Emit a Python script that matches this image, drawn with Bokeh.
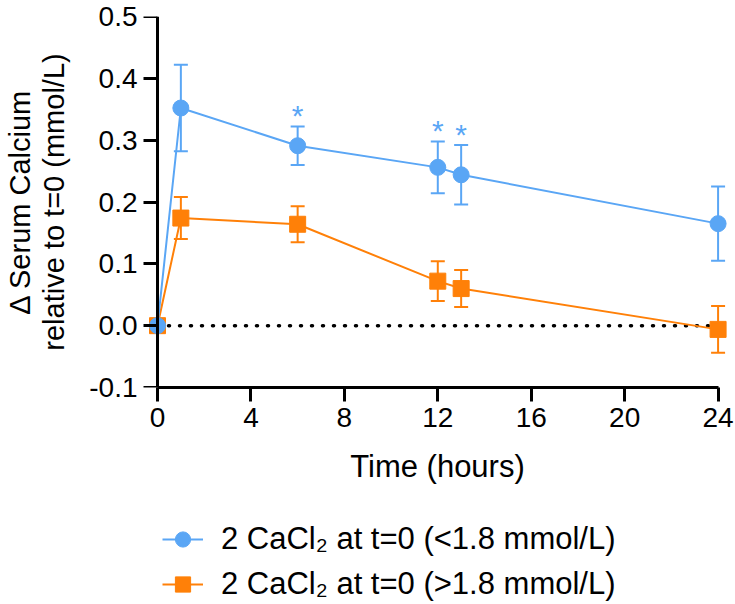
from bokeh.plotting import figure
from bokeh.layouts import column
from bokeh.models import (ColumnDataSource, Whisker, TeeHead, FixedTicker, LinearAxis,
                          PrintfTickFormatter, Legend, LegendItem, Title, Range1d)
from bokeh.core.properties import value
from bokeh.embed import file_html
from bokeh.resources import INLINE

# ---------------- data ----------------
time_h = [0, 1, 6, 12, 13, 24]
low_mean = [0.0, 0.352, 0.291, 0.256, 0.244, 0.165]
low_sem = [0.0, 0.070, 0.031, 0.042, 0.048, 0.060]
high_mean = [0.0, 0.174, 0.164, 0.072, 0.060, -0.006]
high_sem = [0.0, 0.034, 0.029, 0.032, 0.030, 0.038]
sig_times = [6, 12, 13]
x_ticks = [0, 4, 8, 12, 16, 20, 24]
y_ticks = [-0.1, 0.0, 0.1, 0.2, 0.3, 0.4, 0.5]
label_low = "2 CaCl\u2082 at t=0 (<1.8 mmol/L)"
label_high = "2 CaCl\u2082 at t=0 (>1.8 mmol/L)"
x_title = "Time (hours)"
y_title_1 = "\u0394 Serum Calcium"
y_title_2 = "relative to t=0 (mmol/L)"

BLUE = "#5AA6F5"
ORANGE = "#FF8008"
FONT = "Liberation Sans"
TICK_FS = "28px"
YT_FS = "29px"
LEFT, RIGHT = 141, 2

H1 = 497
p = figure(width=735, height=H1, output_backend="svg", toolbar_location=None,
           x_range=Range1d(-0.685, 24.66), y_range=Range1d(-0.1, 0.5),
           y_axis_location="right",
           min_border_left=LEFT, min_border_right=RIGHT, min_border_top=16,
           min_border_bottom=H1 - 387)
p.outline_line_color = None
p.grid.visible = False

def style(ax):
    ax.axis_line_width = 3
    ax.axis_line_color = "black"
    ax.major_tick_line_width = 3
    ax.major_tick_line_color = "black"
    ax.minor_tick_line_color = None
    ax.major_label_text_font_size = TICK_FS
    ax.major_label_text_font = FONT
    ax.major_label_text_color = "black"

# y axis line + ticks drawn at x = 0 (labels come from a label-only axis)
yax = p.yaxis[0]
style(yax)
yax.fixed_location = 0
yax.bounds = (y_ticks[0], y_ticks[-1])
yax.ticker = FixedTicker(ticks=y_ticks)
yax.major_tick_in = 14
yax.major_tick_out = 0
yax.major_label_text_font_size = "0px"
yax.major_label_text_color = None
yax.major_label_standoff = 0

lab = LinearAxis(ticker=FixedTicker(ticks=y_ticks),
                 formatter=PrintfTickFormatter(format="%.1f"))
style(lab)
lab.axis_line_color = None
lab.major_tick_line_color = None
lab.major_tick_out = 0
lab.major_tick_in = 0
lab.major_label_standoff = 4
lab.axis_label = y_title_2
lab.axis_label_text_font = FONT
lab.axis_label_text_font_size = YT_FS
lab.axis_label_text_font_style = "normal"
lab.axis_label_text_color = "black"
lab.axis_label_standoff = 16
p.add_layout(lab, "left")
p.add_layout(Title(text=y_title_1, align="center", text_font=FONT,
                   text_font_size=YT_FS, text_font_style="normal",
                   text_color="black", standoff=0), "left")

xax = p.xaxis[0]
style(xax)
xax.bounds = (x_ticks[0], x_ticks[-1])
xax.ticker = FixedTicker(ticks=x_ticks)
xax.major_tick_out = 14
xax.major_tick_in = 0
xax.major_label_standoff = 6
xax.axis_label = x_title
xax.axis_label_text_font = FONT
xax.axis_label_text_font_size = "31px"
xax.axis_label_text_font_style = "normal"
xax.axis_label_text_color = "black"
xax.axis_label_standoff = 19

# zero reference line
p.line(x=[x_ticks[0], x_ticks[-1]], y=[0, 0], line_color="black",
       line_width=3.5, line_dash="1 10", line_cap="round")

# error bars
def whisker(mean, sem, color):
    src = ColumnDataSource(dict(t=time_h,
                                upper=[m + s for m, s in zip(mean, sem)],
                                lower=[m - s for m, s in zip(mean, sem)]))
    w = Whisker(base="t", upper="upper", lower="lower", source=src,
                line_color=color, line_width=2, level="underlay")
    w.upper_head = TeeHead(size=14, line_color=color, line_width=2)
    w.lower_head = TeeHead(size=14, line_color=color, line_width=2)
    p.add_layout(w)

whisker(high_mean, high_sem, ORANGE)
whisker(low_mean, low_sem, BLUE)

# series
p.line(time_h, high_mean, line_color=ORANGE, line_width=2)
p.scatter(time_h, high_mean, marker="square", size=16, color=ORANGE)
p.line(time_h, low_mean, line_color=BLUE, line_width=2)
p.scatter(time_h, low_mean, marker="circle", size=16, color=BLUE)

# significance stars
star_y = [low_mean[time_h.index(t)] + low_sem[time_h.index(t)] for t in sig_times]
p.text(x=sig_times, y=star_y, text=["*"] * len(sig_times), text_color=BLUE,
       text_font=value(FONT), text_font_size="30px", text_align="center",
       text_baseline="alphabetic", y_offset=-11)

# legend strip below the plot (its renderers sit outside its visible ranges)
H2 = 604 - H1
q = figure(width=735, height=H2, output_backend="svg", toolbar_location=None,
           x_range=Range1d(100, 101), y_range=Range1d(100, 101),
           min_border_left=LEFT, min_border_right=RIGHT, min_border_top=0,
           min_border_bottom=0, x_axis_location=None, y_axis_location=None)
q.outline_line_color = None
q.grid.visible = False
l_ll = q.line(time_h, low_mean, line_color=BLUE, line_width=2)
l_ls = q.scatter(time_h, low_mean, marker="circle", color=BLUE)
l_hl = q.line(time_h, high_mean, line_color=ORANGE, line_width=2)
l_hs = q.scatter(time_h, high_mean, marker="square", color=ORANGE)
legend = Legend(items=[LegendItem(label=label_low, renderers=[l_ll, l_ls]),
                       LegendItem(label=label_high, renderers=[l_hl, l_hs])],
                location=(162 - LEFT, 1), orientation="vertical",
                border_line_color=None, background_fill_alpha=0,
                label_text_font=FONT, label_text_font_size="31px",
                label_text_color="black", label_text_baseline="middle",
                glyph_width=41, glyph_height=38, spacing=7,
                label_standoff=18, padding=0, margin=0)
q.add_layout(legend)

open("out.html", "w").write(file_html(column(p, q), INLINE))
